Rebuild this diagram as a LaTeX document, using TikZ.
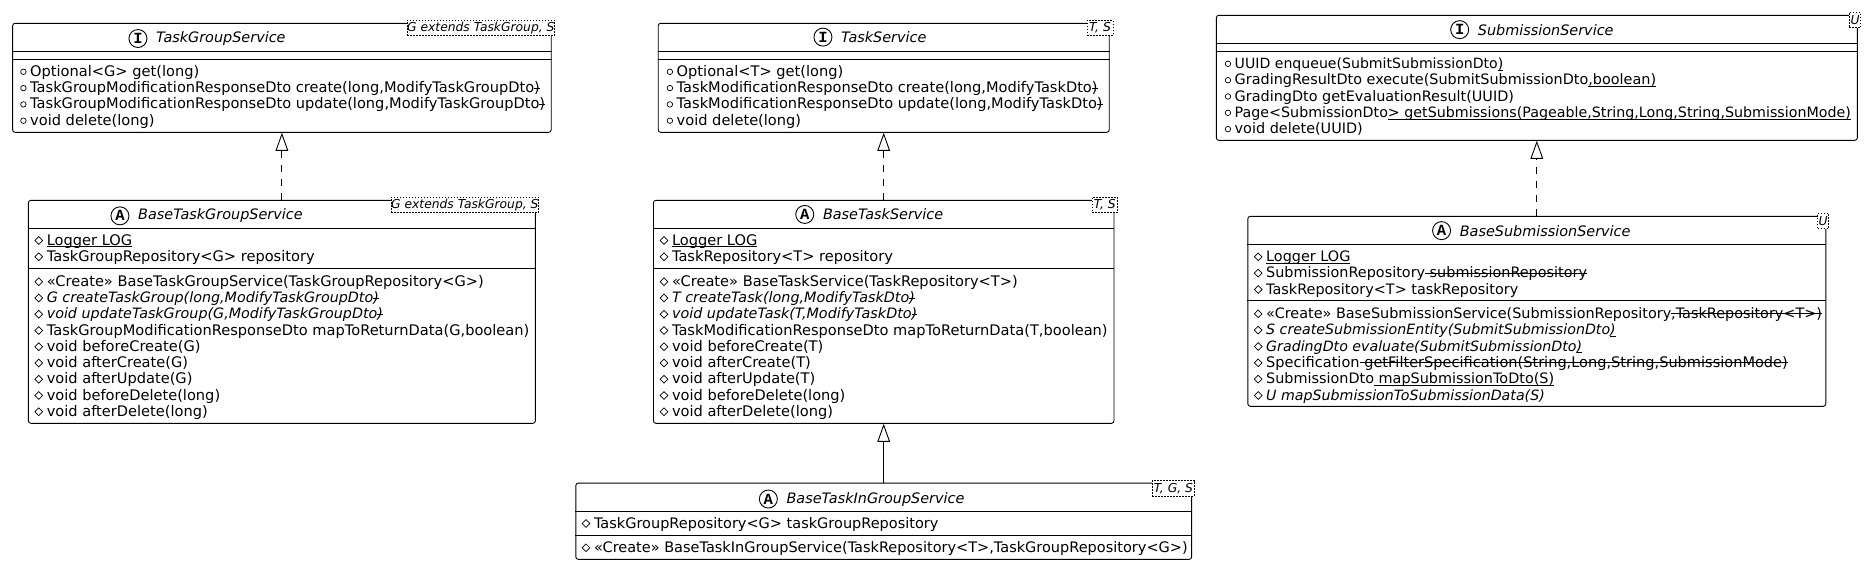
\documentclass[tikz,border=0pt]{standalone}
\usepackage{fontspec}
\setmainfont{DejaVu Sans}
\setmonofont{Liberation Mono}
\usetikzlibrary{positioning,arrows.meta,shapes.geometric}
\newcommand{\ulpart}[1]{\leavevmode\setbox0\hbox{#1}\rlap{\rule[-2.2pt]{\wd0}{0.9pt}}\box0}
\newcommand{\stpart}[1]{\leavevmode\setbox0\hbox{#1}\rlap{\rule[4pt]{\wd0}{0.9pt}}\box0}
\newcommand{\rowfont}[1]{\fontsize{#1}{16}\selectfont}
\tikzset{
  classbox/.style={draw,rectangle,rounded corners=2.5pt,line width=0.9pt,fill=white,inner sep=0pt},
  classtitle/.style={anchor=base west,inner sep=0pt,font=\fontsize{14.4}{16}\selectfont\itshape},
  iconmark/.style={draw,circle,line width=0.9pt,minimum size=18pt,inner sep=0pt,font=\fontsize{15.5}{15}\selectfont\ttfamily\bfseries},
  genericbox/.style={draw,rectangle,dashed,dash pattern=on 1.5pt off 1.5pt,line width=0.7pt,fill=white,inner sep=0pt,font=\fontsize{12.3}{12}\selectfont\itshape},
  memberrow/.style={anchor=base west,inner sep=0pt,font=\fontsize{14.6}{16}\selectfont},
  pubmark/.style={draw,circle,line width=0.7pt,minimum size=5.5pt,inner sep=0pt},
  protmark/.style={draw,diamond,aspect=1,line width=0.7pt,minimum size=8pt,inner sep=0pt},
  realizes/.style={line width=0.9pt,dash pattern=on 7pt off 7pt,-{Triangle[open,length=18pt,width=12.6pt,fill=white]}},
  extends/.style={line width=0.9pt,-{Triangle[open,length=18pt,width=12.6pt,fill=white]}}
}
% marker style, node name, x, y, text
\newcommand{\member}[5]{
  \node[memberrow] (#2) at (#3,#4) {#5};
  \node[#1,left=3.5pt of #2.base west,yshift=4.5pt] (#2m) {};
}
\begin{document}
\begin{tikzpicture}[x=1pt,y=-1pt]
  \useasboundingbox (0,0) rectangle (1867,565);
  % Nodes
  \node[classbox,minimum width=538.6pt,minimum height=109pt] (tgs) at (281.9,77.8) {};
  \node[classbox,minimum width=507pt,minimum height=223pt] (btgs) at (281.9,311.8) {};
  \node[classbox,minimum width=451pt,minimum height=109pt] (ts) at (883.7,77.8) {};
  \node[classbox,minimum width=460.5pt,minimum height=223pt] (bts) at (883.7,311.8) {};
  \node[classbox,minimum width=615.8pt,minimum height=76.3pt] (btigs) at (883.7,521.2) {};
  \node[classbox,minimum width=641pt,minimum height=125pt] (ss) at (1536.8,77.8) {};
  \node[classbox,minimum width=578pt,minimum height=190pt] (bss) at (1536.8,311.3) {};
  % Titles
  \node[classtitle] (tgst) at (156,42.5) {TaskGroupService};
  \node[iconmark,left=8.6pt of tgst] (tgsi) {I};
  \node[classtitle] (btgst) at (138,219.8) {BaseTaskGroupService};
  \node[iconmark,left=8.6pt of btgst] (btgsi) {A};
  \node[classtitle] (tst) at (841,42.5) {TaskService};
  \node[iconmark,left=8.6pt of tst] (tsi) {I};
  \node[classtitle] (btst) at (822.8,219.8) {BaseTaskService};
  \node[iconmark,left=8.6pt of btst] (btsi) {A};
  \node[classtitle] (btigst) at (786.4,503) {BaseTaskInGroupService};
  \node[iconmark,left=8.6pt of btigst] (btigsi) {A};
  \node[classtitle] (sst) at (1477.7,35) {SubmissionService};
  \node[iconmark,left=8.6pt of sst] (ssi) {I};
  \node[classtitle] (bsst) at (1459.6,236) {BaseSubmissionService};
  \node[iconmark,left=8.6pt of bsst] (bssi) {A};
  % Separators
  \draw[line width=0.9pt] (tgs.west |- 0,51.7) -- (tgs.east |- 0,51.7);
  \draw[line width=0.9pt] (tgs.west |- 0,59.3) -- (tgs.east |- 0,59.3);
  \draw[line width=0.9pt] (btgs.west |- 0,228.3) -- (btgs.east |- 0,228.3);
  \draw[line width=0.9pt] (btgs.west |- 0,268.5) -- (btgs.east |- 0,268.5);
  \draw[line width=0.9pt] (ts.west |- 0,51.7) -- (ts.east |- 0,51.7);
  \draw[line width=0.9pt] (ts.west |- 0,59.3) -- (ts.east |- 0,59.3);
  \draw[line width=0.9pt] (bts.west |- 0,228.3) -- (bts.east |- 0,228.3);
  \draw[line width=0.9pt] (bts.west |- 0,268.5) -- (bts.east |- 0,268.5);
  \draw[line width=0.9pt] (btigs.west |- 0,511) -- (btigs.east |- 0,511);
  \draw[line width=0.9pt] (btigs.west |- 0,535.7) -- (btigs.east |- 0,535.7);
  \draw[line width=0.9pt] (ss.west |- 0,43.3) -- (ss.east |- 0,43.3);
  \draw[line width=0.9pt] (ss.west |- 0,51.3) -- (ss.east |- 0,51.3);
  \draw[line width=0.9pt] (bss.west |- 0,244.3) -- (bss.east |- 0,244.3);
  \draw[line width=0.9pt] (bss.west |- 0,300) -- (bss.east |- 0,300);
  % Generics
  \node[genericbox,minimum width=147pt,minimum height=15.4pt] (tgsg) at (480.8,28) {G extends TaskGroup, S};
  \node[genericbox,minimum width=147pt,minimum height=15.4pt] (btgsg) at (464.8,205) {G extends TaskGroup, S};
  \node[genericbox,minimum width=25.7pt,minimum height=15.4pt] (tsg) at (1100,28) {T, S};
  \node[genericbox,minimum width=25pt,minimum height=15.4pt] (btsg) at (1104.8,205) {T, S};
  \node[genericbox,minimum width=42pt,minimum height=15.4pt] (btigsg) at (1173.4,488.2) {T, G, S};
  \node[genericbox,minimum width=11.3pt,minimum height=15.4pt] (ssg) at (1855,20) {U};
  \node[genericbox,minimum width=11.2pt,minimum height=15.4pt] (bssg) at (1823.2,221) {U};
  % Members
  \member{pubmark}{tgsa}{30}{76.3}{Optional<G> get(long)}
  \member{pubmark}{tgsb}{30}{92.6}{TaskGroupModificationResponseDto create(long,ModifyTaskGroupDto\stpart{)}}
  \member{pubmark}{tgsc}{30}{108.9}{TaskGroupModificationResponseDto update(long,ModifyTaskGroupDto\stpart{)}}
  \member{pubmark}{tgsd}{30}{125.2}{void delete(long)}
  \member{protmark}{btgsa}{46.6}{245}{\ulpart{Logger LOG}}
  \member{protmark}{btgsb}{46.6}{261.3}{TaskGroupRepository<G> repository}
  \member{protmark}{btgsc}{46.6}{286.3}{«Create» BaseTaskGroupService(TaskGroupRepository<G>)}
  \member{protmark}{btgsd}{46.6}{302.5}{\rowfont{14.3}\itshape G createTaskGroup(long,ModifyTaskGroupDto\stpart{)}}
  \member{protmark}{btgse}{46.6}{318.8}{\rowfont{14.3}\itshape void updateTaskGroup(G,ModifyTaskGroupDto\stpart{)}}
  \member{protmark}{btgsf}{46.6}{335}{TaskGroupModificationResponseDto mapToReturnData(G,boolean)}
  \member{protmark}{btgsg}{46.6}{351.3}{void beforeCreate(G)}
  \member{protmark}{btgsh}{46.6}{367.5}{void afterCreate(G)}
  \member{protmark}{btgsi}{46.6}{383.8}{void afterUpdate(G)}
  \member{protmark}{btgsj}{46.6}{400}{void beforeDelete(long)}
  \member{protmark}{btgsk}{46.6}{416.3}{void afterDelete(long)}
  \member{pubmark}{tsa}{676.5}{76.3}{Optional<T> get(long)}
  \member{pubmark}{tsb}{676.5}{92.6}{TaskModificationResponseDto create(long,ModifyTaskDto\stpart{)}}
  \member{pubmark}{tsc}{676.5}{108.9}{TaskModificationResponseDto update(long,ModifyTaskDto\stpart{)}}
  \member{pubmark}{tsd}{676.5}{125.2}{void delete(long)}
  \member{protmark}{btsa}{671.8}{245}{\ulpart{Logger LOG}}
  \member{protmark}{btsb}{671.8}{261.3}{TaskRepository<T> repository}
  \member{protmark}{btsc}{671.8}{286.3}{«Create» BaseTaskService(TaskRepository<T>)}
  \member{protmark}{btsd}{671.8}{302.5}{\rowfont{14.35}\itshape T createTask(long,ModifyTaskDto\stpart{)}}
  \member{protmark}{btse}{671.8}{318.8}{\rowfont{14.35}\itshape void updateTask(T,ModifyTaskDto\stpart{)}}
  \member{protmark}{btsf}{671.8}{335}{TaskModificationResponseDto mapToReturnData(T,boolean)}
  \member{protmark}{btsg}{671.8}{351.3}{void beforeCreate(T)}
  \member{protmark}{btsh}{671.8}{367.5}{void afterCreate(T)}
  \member{protmark}{btsi}{671.8}{383.8}{void afterUpdate(T)}
  \member{protmark}{btsj}{671.8}{400}{void beforeDelete(long)}
  \member{protmark}{btsk}{671.8}{416.3}{void afterDelete(long)}
  \member{protmark}{btigsa}{593.8}{528}{\rowfont{14.5}TaskGroupRepository<G> taskGroupRepository}
  \member{protmark}{btigsb}{593.8}{552.3}{\rowfont{14.5}«Create» BaseTaskInGroupService(TaskRepository<T>,TaskGroupRepository<G>)}
  \member{pubmark}{ssa}{1234.5}{68.3}{\rowfont{14.1}UUID enqueue(SubmitSubmissionDto\ulpart{)}}
  \member{pubmark}{ssb}{1234.5}{84.7}{\rowfont{14.4}GradingResultDto execute(SubmitSubmissionDto\ulpart{,boolean)}}
  \member{pubmark}{ssc}{1234.5}{101}{\rowfont{14.4}GradingDto getEvaluationResult(UUID)}
  \member{pubmark}{ssd}{1234.5}{117.3}{\rowfont{14.25}Page<SubmissionDto\ulpart{> getSubmissions(Pageable,String,Long,String,SubmissionMode)}}
  \member{pubmark}{sse}{1234.5}{133.6}{\rowfont{14.4}void delete(UUID)}
  \member{protmark}{bssa}{1266}{261.3}{\rowfont{14.4}\ulpart{Logger LOG}}
  \member{protmark}{bssb}{1266}{277.6}{\rowfont{14.4}SubmissionRepository\stpart{ submissionRepository}}
  \member{protmark}{bssc}{1266}{294}{\rowfont{14.4}TaskRepository<T> taskRepository}
  \member{protmark}{bssd}{1266}{318.3}{\rowfont{14.4}«Create» BaseSubmissionService(SubmissionRepository\stpart{,TaskRepository<T>)}}
  \member{protmark}{bsse}{1266}{334.6}{\rowfont{14.2}\itshape S createSubmissionEntity(SubmitSubmissionDto\ulpart{)}}
  \member{protmark}{bssf}{1266}{351}{\rowfont{14.2}\itshape GradingDto evaluate(SubmitSubmissionDto\ulpart{)}}
  \member{protmark}{bssg}{1266}{367.3}{\rowfont{14.55}Specification\stpart{ getFilterSpecification(String,Long,String,SubmissionMode)}}
  \member{protmark}{bssh}{1266}{383.6}{\rowfont{14.4}SubmissionDto\ulpart{ mapSubmissionToDto(S)}}
  \member{protmark}{bssi}{1266}{400}{\rowfont{14.2}\itshape U mapSubmissionToSubmissionData(S)}
  % Edges
  \draw[realizes] (btgs) -- (tgs);
  \draw[realizes] (bts) -- (ts);
  \draw[extends] (btigs) -- (bts);
  \draw[realizes] (bss) -- (ss);
\end{tikzpicture}
\end{document}
